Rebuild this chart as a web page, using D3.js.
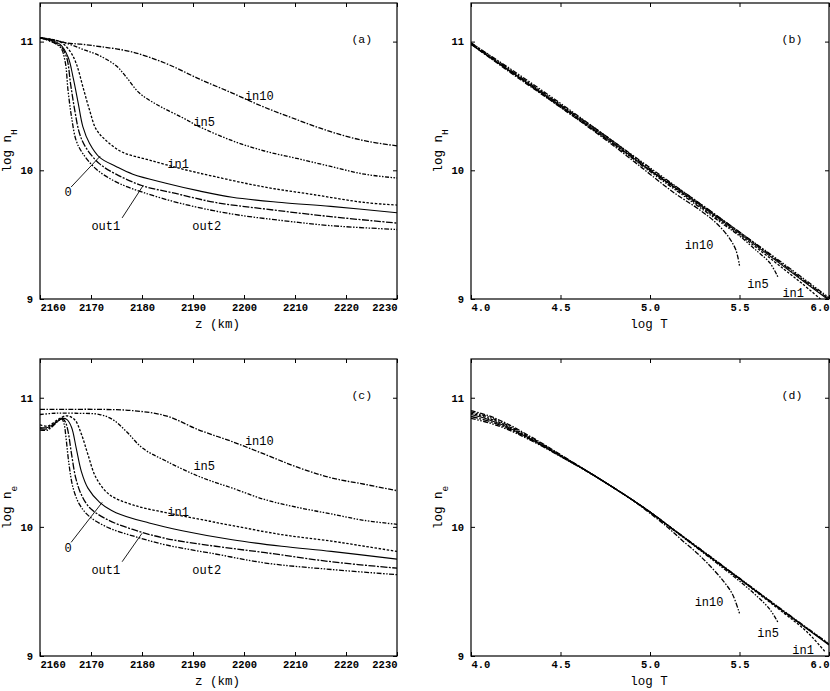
<!DOCTYPE html>
<html><head><meta charset="utf-8">
<script src="https://cdn.jsdelivr.net/npm/d3@7"></script>
<style>
body{margin:0;background:#fff;}
svg text{font-family:"Liberation Mono","DejaVu Sans Mono",monospace;fill:#000;}
</style></head>
<body><svg id="c" width="830" height="691"></svg>
<script>
// ---------- tick labels ----------
const zTicks = [2160,2170,2180,2190,2200,2210,2220,2230];
const tTicks = [4.0,4.5,5.0,5.5,6.0];
const yTicks = [9,10,11];
const seriesNames = ["in10","in5","in1","0","out1","out2"];

// ---------- panel (a): log nH vs z ----------
const aIn10 = [[2160,11.03],[2163,11.01],[2165,10.99],[2168,10.98],[2172,10.96],[2178,10.92],[2184.7,10.83],[2191.2,10.71],[2197.7,10.60],[2204,10.49],[2210.6,10.39],[2217,10.30],[2223.6,10.23],[2230,10.19]];
const aIn5 = [[2160,11.03],[2163,11.01],[2165,10.99],[2168.4,10.94],[2171.7,10.89],[2175,10.81],[2177,10.72],[2179.5,10.60],[2183.4,10.50],[2187.9,10.41],[2191.2,10.34],[2197.7,10.23],[2204,10.15],[2210.6,10.09],[2217,10.03],[2223.6,9.97],[2230,9.94]];
const aIn1 = [[2160,11.03],[2163.9,11.0],[2165.8,10.93],[2167.1,10.83],[2168.4,10.65],[2169.7,10.47],[2171,10.32],[2173,10.23],[2176.2,10.14],[2181.4,10.08],[2187.9,10.01],[2194.4,9.95],[2204,9.87],[2213.8,9.81],[2223.6,9.75],[2230,9.73]];
const a0 = [[2160,11.03],[2163.9,10.98],[2165.5,10.88],[2166.5,10.72],[2167.5,10.52],[2168.4,10.34],[2169.7,10.21],[2171.7,10.10],[2174.9,10.03],[2178.2,9.97],[2184.7,9.90],[2191.2,9.84],[2197.7,9.79],[2207.4,9.75],[2217,9.72],[2230,9.67]];
const aOut1 = [[2160,11.03],[2163.9,10.97],[2165.2,10.88],[2166,10.67],[2166.8,10.47],[2167.8,10.28],[2169.1,10.17],[2171.7,10.05],[2174.9,9.97],[2180.1,9.88],[2186.6,9.82],[2194.4,9.75],[2204,9.70],[2217,9.64],[2230,9.59]];
const aOut2 = [[2160,11.03],[2163.9,10.96],[2164.9,10.85],[2165.5,10.62],[2166.2,10.41],[2167.1,10.23],[2168.4,10.13],[2171,10.01],[2174.9,9.91],[2180.1,9.83],[2187.9,9.74],[2197.7,9.66],[2207.4,9.61],[2217,9.57],[2230,9.54]];

// ---------- panel (b): log nH vs log T ----------
const bIn10 = [[4.0,10.98],[4.25,10.73],[4.5,10.49],[4.75,10.24],[4.9,10.08],[5.0,9.97],[5.13,9.83],[5.28,9.69],[5.37,9.59],[5.44,9.48],[5.48,9.38],[5.50,9.26]];
const bIn5 = [[4.0,10.98],[4.25,10.74],[4.5,10.49],[4.75,10.25],[5.0,9.99],[5.2,9.79],[5.4,9.59],[5.5,9.49],[5.6,9.37],[5.67,9.28],[5.715,9.17]];
const bIn1 = [[4.0,10.98],[4.25,10.74],[4.5,10.50],[4.75,10.25],[5.0,10.0],[5.25,9.75],[5.5,9.50],[5.75,9.23],[5.85,9.12],[5.96,8.99]];
const b0 = [[4.0,10.98],[4.25,10.74],[4.5,10.50],[4.75,10.26],[5.0,10.00],[5.25,9.76],[5.5,9.51],[5.75,9.25],[6.0,8.99]];
const bOut1 = [[4.0,10.99],[4.25,10.75],[4.5,10.51],[4.75,10.27],[5.0,10.01],[5.25,9.77],[5.5,9.52],[5.75,9.26],[6.0,9.0]];
const bOut2 = [[4.0,10.99],[4.25,10.76],[4.5,10.52],[4.75,10.27],[5.0,10.02],[5.25,9.77],[5.5,9.52],[5.75,9.27],[6.0,9.01]];

// ---------- panel (c): log ne vs z ----------
const cIn10 = [[2160,10.91],[2165,10.91],[2171.7,10.91],[2178.2,10.90],[2184.7,10.86],[2191.2,10.75],[2197.7,10.66],[2204.2,10.56],[2210.6,10.46],[2217.1,10.38],[2223.6,10.33],[2230,10.28]];
const cIn5 = [[2160,10.87],[2163,10.88],[2167,10.88],[2171.7,10.87],[2174.3,10.83],[2176.9,10.74],[2180.1,10.61],[2184.7,10.51],[2191.2,10.39],[2197.7,10.30],[2204.2,10.21],[2210.6,10.15],[2217.1,10.10],[2223.6,10.05],[2230,10.02]];
const cIn1 = [[2160,10.79],[2161.5,10.78],[2163.5,10.83],[2165.2,10.86],[2166.8,10.83],[2168.1,10.72],[2169.4,10.56],[2171,10.38],[2173.6,10.25],[2178.2,10.17],[2184.7,10.11],[2191.2,10.06],[2197.7,10.01],[2207.4,9.94],[2217.1,9.89],[2223.6,9.85],[2230,9.81]];
const c0 = [[2160,10.77],[2161.5,10.77],[2163.5,10.82],[2164.5,10.84],[2165.3,10.83],[2166.2,10.77],[2167.1,10.61],[2168.1,10.43],[2169.4,10.30],[2171.7,10.19],[2174.9,10.11],[2181.4,10.03],[2187.9,9.97],[2197.7,9.90],[2207.4,9.85],[2217.1,9.81],[2230,9.75]];
const cOut1 = [[2160,10.76],[2161.5,10.76],[2163.5,10.82],[2164.4,10.84],[2165,10.81],[2165.5,10.74],[2166.2,10.56],[2167,10.38],[2168.1,10.25],[2169.7,10.15],[2173,10.06],[2178.2,9.98],[2184.7,9.91],[2194.4,9.85],[2204.2,9.80],[2217.1,9.73],[2230,9.68]];
const cOut2 = [[2160,10.75],[2161.5,10.75],[2163.3,10.81],[2164.2,10.84],[2164.7,10.80],[2165.1,10.69],[2165.7,10.48],[2166.5,10.30],[2167.8,10.17],[2169.7,10.08],[2173.6,9.99],[2178.2,9.93],[2184.7,9.86],[2194.4,9.79],[2204.2,9.72],[2217.1,9.67],[2230,9.63]];

// ---------- panel (d): log ne vs log T ----------
const dIn10 = [[4.0,10.90],[4.1,10.86],[4.2,10.80],[4.3,10.725],[4.4,10.645],[4.5,10.56],[4.65,10.43],[4.8,10.30],[4.9,10.21],[5.0,10.105],[5.1,9.995],[5.18,9.895],[5.26,9.80],[5.32,9.72],[5.41,9.58],[5.46,9.48],[5.5,9.33]];
const dIn5 = [[4.0,10.89],[4.1,10.85],[4.2,10.79],[4.3,10.717],[4.4,10.64],[4.5,10.556],[4.65,10.43],[4.8,10.30],[4.9,10.21],[5.0,10.113],[5.13,9.977],[5.25,9.85],[5.4,9.69],[5.5,9.58],[5.6,9.46],[5.67,9.36],[5.715,9.26]];
const dIn1 = [[4.0,10.88],[4.1,10.84],[4.2,10.783],[4.3,10.711],[4.4,10.634],[4.5,10.552],[4.65,10.43],[4.8,10.30],[4.9,10.21],[5.0,10.115],[5.13,9.98],[5.25,9.855],[5.5,9.595],[5.75,9.33],[5.85,9.22],[5.91,9.14],[5.98,9.03]];
const d0 = [[4.0,10.87],[4.1,10.83],[4.2,10.775],[4.3,10.705],[4.4,10.63],[4.5,10.55],[4.65,10.43],[4.8,10.30],[4.9,10.21],[5.0,10.115],[5.13,9.98],[5.25,9.855],[5.5,9.598],[5.75,9.34],[6.0,9.085]];
const dOut1 = [[4.0,10.855],[4.1,10.818],[4.2,10.766],[4.3,10.70],[4.4,10.627],[4.5,10.547],[4.65,10.43],[4.8,10.30],[4.9,10.21],[5.0,10.115],[5.13,9.98],[5.25,9.857],[5.5,9.60],[5.75,9.343],[6.0,9.09]];
const dOut2 = [[4.0,10.84],[4.1,10.806],[4.2,10.757],[4.3,10.693],[4.4,10.622],[4.5,10.545],[4.65,10.428],[4.8,10.30],[4.9,10.21],[5.0,10.116],[5.13,9.982],[5.25,9.86],[5.5,9.603],[5.75,9.346],[6.0,9.095]];

// ---------- annotations (data coordinates) ----------
const aLabels = [["in10",2203,10.58],["in5",2192.2,10.38],["in1",2187.1,10.05],["0",2165.5,9.83],["out1",2172.9,9.57],["out2",2192.7,9.57]];
const aLeaders = [[[2166.1,9.87],[2171.8,10.11]],[[2176.1,9.63],[2180.2,9.88]]];
const cLabels = [["in10",2203,10.67],["in5",2192.2,10.47],["in1",2187.1,10.12],["0",2165.5,9.84],["out1",2172.9,9.67],["out2",2192.7,9.67]];
const cLeaders = [[[2166.1,9.88],[2172.2,10.19]],[[2176.1,9.73],[2180.0,9.95]]];
const bLabels = [["in10",5.274,9.42],["in5",5.603,9.12],["in1",5.80,9.05]];
const dLabels = [["in10",5.33,9.42],["in5",5.66,9.18],["in1",5.855,9.05]];

// ---------- drawing ----------
const dash = {"in10":"5,1.5,1.5,1.5","in5":"4,1.5,1.5,1.5,1.5,1.5","in1":"2.5,1.6","0":null,"out1":"7,1.5,2,1.5","out2":"5,1.5,1.5,1.5,1.5,1.5"};
const svg = d3.select("#c");

const panels = [
  {id:"a", tag:"(a)", L:40, R:397, T:3, B:299, xd:[2160,2230], xt:zTicks, xf:d3.format("d"), xl:"z (km)", yl:"H",
   series:[aIn10,aIn5,aIn1,a0,aOut1,aOut2], labels:aLabels, leaders:aLeaders, tagPos:[2223.1,11.02]},
  {id:"b", tag:"(b)", L:471, R:829, T:3, B:299, xd:[4,6], xt:tTicks, xf:d3.format(".1f"), xl:"log T", yl:"H",
   series:[bIn10,bIn5,bIn1,b0,bOut1,bOut2], labels:bLabels, leaders:[], tagPos:[5.793,11.02]},
  {id:"c", tag:"(c)", L:40, R:397, T:359, B:656, xd:[2160,2230], xt:zTicks, xf:d3.format("d"), xl:"z (km)", yl:"e",
   series:[cIn10,cIn5,cIn1,c0,cOut1,cOut2], labels:cLabels, leaders:cLeaders, tagPos:[2223.1,11.02]},
  {id:"d", tag:"(d)", L:471, R:829, T:359, B:656, xd:[4,6], xt:tTicks, xf:d3.format(".1f"), xl:"log T", yl:"e",
   series:[dIn10,dIn5,dIn1,d0,dOut1,dOut2], labels:dLabels, leaders:[], tagPos:[5.793,11.02]}
];

panels.forEach(p=>{
  const x = d3.scaleLinear().domain(p.xd).range([p.L,p.R]);
  const y = d3.scaleLinear().domain([9,11.3]).range([p.B,p.T]);
  const g = svg.append("g");
  g.append("clipPath").attr("id","clip"+p.id).append("rect")
    .attr("x",p.L).attr("y",p.T).attr("width",p.R-p.L).attr("height",p.B-p.T);

  const line = d3.line().x(d=>x(d[0])).y(d=>y(d[1])).curve(d3.curveCatmullRom.alpha(0.5));
  const cg = g.append("g").attr("clip-path","url(#clip"+p.id+")");
  p.series.forEach((s,i)=>{
    const nm = seriesNames[i];
    cg.append("path").attr("d",line(s)).attr("fill","none")
      .attr("stroke","#000").attr("stroke-width",nm==="0"?1.1:1.3)
      .attr("stroke-dasharray",dash[nm]);
  });

  // axes
  const bot = g.append("g").attr("transform",`translate(0,${p.B})`)
    .call(d3.axisBottom(x).tickValues(p.xt).tickFormat(p.xf).tickSize(-4).tickPadding(5));
  const top = g.append("g").attr("transform",`translate(0,${p.T})`)
    .call(d3.axisTop(x).tickValues(p.xt).tickFormat("").tickSize(-4));
  const lef = g.append("g").attr("transform",`translate(${p.L},0)`)
    .call(d3.axisLeft(y).tickValues(yTicks).tickFormat(d3.format("d")).tickSize(-4).tickPadding(7));
  const rig = g.append("g").attr("transform",`translate(${p.R},0)`)
    .call(d3.axisRight(y).tickValues(yTicks).tickFormat("").tickSize(-4));
  [bot,top,lef,rig].forEach(a=>{
    a.select(".domain").remove();
    a.selectAll("line").attr("stroke","#000").attr("stroke-width",1);
    a.selectAll("text").attr("font-family","Liberation Mono, DejaVu Sans Mono, monospace").attr("font-size",10.5).attr("font-weight","bold").attr("fill","#000");
  });
  const bt = bot.selectAll(".tick text");
  bt.filter((d,i)=>i===0).attr("text-anchor","start");
  bt.filter((d,i,n)=>i===n.length-1).attr("text-anchor","end");

  g.append("rect").attr("x",p.L).attr("y",p.T).attr("width",p.R-p.L).attr("height",p.B-p.T)
    .attr("fill","none").attr("stroke","#000").attr("stroke-width",1.2);

  // axis titles
  g.append("text").attr("x",(p.L+p.R)/2-1).attr("y",p.B+29)
    .attr("text-anchor","middle").attr("font-size",12.5).text(p.xl);
  const yt = g.append("text").attr("transform",`translate(${p.L-29},${(p.T+p.B)/2}) rotate(-90)`)
    .attr("text-anchor","middle").attr("font-size",12.5);
  yt.append("tspan").text("log n");
  yt.append("tspan").attr("baseline-shift","sub").attr("font-size",9.5).text(p.yl);

  // panel tag
  g.append("text").attr("x",x(p.tagPos[0])).attr("y",y(p.tagPos[1])).attr("dy","0.35em")
    .attr("text-anchor","middle").attr("font-size",11.5).text(p.tag);

  // curve labels
  p.labels.forEach(l=>{
    g.append("text").attr("x",x(l[1])).attr("y",y(l[2])).attr("dy","0.35em")
      .attr("text-anchor","middle").attr("font-size",12).text(l[0]);
  });
  p.leaders.forEach(s=>{
    g.append("line").attr("x1",x(s[0][0])).attr("y1",y(s[0][1]))
      .attr("x2",x(s[1][0])).attr("y2",y(s[1][1])).attr("stroke","#000").attr("stroke-width",0.9);
  });
});
</script></body></html>
